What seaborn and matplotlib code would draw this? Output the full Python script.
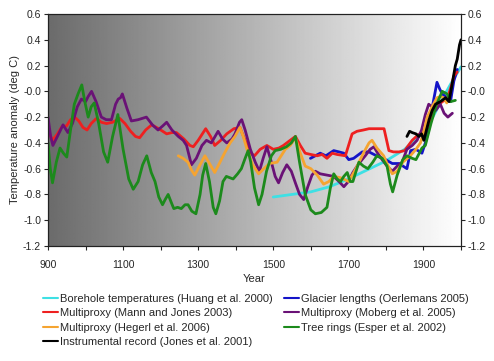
import numpy as np
import pandas as pd
import matplotlib
matplotlib.use("Agg")
import matplotlib.pyplot as plt
import seaborn as sns

# Temperature reconstructions, values
borehole_years = [1500, 1550, 1600, 1650, 1700, 1750, 1800, 1850, 1900, 1925, 1950, 1975, 2000]
borehole_vals = [-0.82, -0.80, -0.78, -0.74, -0.68, -0.61, -0.54, -0.45, -0.31, -0.20, -0.06, 0.07, 0.19]

glacier_years = [1599, 1612, 1625, 1640, 1661, 1675, 1688, 1701, 1714, 1737, 1755, 1775, 1799, 1817,
                 1835, 1856, 1866, 1880, 1896, 1905, 1914, 1925, 1936, 1943, 1950, 1962, 1972, 1981, 1990]
glacier_vals = [-0.52, -0.50, -0.48, -0.50, -0.46, -0.47, -0.48, -0.53, -0.52, -0.47, -0.47, -0.50, -0.53, -0.56,
                -0.56, -0.60, -0.46, -0.45, -0.48, -0.40, -0.30, -0.10, 0.07, 0.02, -0.02, -0.05, -0.08, 0.08, 0.17]

mann_years = [900, 912, 925, 938, 949, 960, 971, 982, 993, 1004, 1015, 1029, 1042, 1056, 1072, 1091, 1105,
              1120, 1133, 1144, 1160, 1176, 1195, 1216, 1230, 1242, 1262, 1278, 1287, 1300, 1320, 1333,
              1344, 1360, 1376, 1395, 1411, 1425, 1440, 1450, 1465, 1483, 1500, 1515, 1527, 1545, 1559,
              1572, 1585, 1600, 1617, 1630, 1643, 1657, 1670, 1692, 1710, 1723, 1740, 1755, 1780, 1795,
              1808, 1820, 1835, 1850, 1870, 1885, 1900, 1910, 1920, 1932, 1950, 1963, 1975, 1981, 1990]
mann_vals = [-0.30, -0.38, -0.33, -0.27, -0.27, -0.22, -0.20, -0.23, -0.28, -0.30, -0.25, -0.21, -0.24, -0.25,
             -0.24, -0.21, -0.25, -0.31, -0.35, -0.36, -0.30, -0.26, -0.29, -0.33, -0.32, -0.32, -0.37,
             -0.42, -0.43, -0.38, -0.29, -0.35, -0.42, -0.38, -0.33, -0.29, -0.28, -0.38, -0.48, -0.50,
             -0.45, -0.42, -0.45, -0.44, -0.42, -0.38, -0.35, -0.42, -0.48, -0.49, -0.50, -0.49, -0.52,
             -0.48, -0.49, -0.50, -0.33, -0.31, -0.30, -0.29, -0.29, -0.29, -0.46, -0.47, -0.47, -0.46,
             -0.38, -0.34, -0.31, -0.28, -0.22, -0.13, -0.08, -0.06, 0.05, 0.12, 0.15]

moberg_years = [900, 907, 913, 925, 940, 953, 965, 978, 989, 1000, 1007, 1016, 1028, 1042, 1055, 1069, 1080,
                1087, 1093, 1098, 1110, 1122, 1140, 1162, 1178, 1193, 1205, 1216, 1230, 1247, 1260, 1269,
                1282, 1295, 1310, 1322, 1335, 1353, 1365, 1376, 1390, 1398, 1410, 1416, 1425, 1439, 1452,
                1463, 1473, 1483, 1495, 1505, 1514, 1525, 1536, 1548, 1560, 1570, 1581, 1592, 1603, 1612,
                1625, 1643, 1661, 1675, 1688, 1700, 1712, 1728, 1745, 1758, 1768, 1778, 1790, 1803, 1817,
                1830, 1843, 1856, 1870, 1883, 1895, 1905, 1914, 1923, 1932, 1945, 1955, 1965, 1977]
moberg_vals = [-0.20, -0.35, -0.42, -0.35, -0.26, -0.32, -0.25, -0.12, -0.06, -0.08, -0.04, 0.00, -0.08,
               -0.20, -0.22, -0.22, -0.10, -0.06, -0.05, -0.02, -0.13, -0.23, -0.22, -0.20, -0.26, -0.30,
               -0.27, -0.24, -0.30, -0.35, -0.38, -0.42, -0.57, -0.52, -0.42, -0.38, -0.40, -0.31, -0.37,
               -0.40, -0.37, -0.33, -0.24, -0.22, -0.30, -0.45, -0.55, -0.62, -0.52, -0.43, -0.55, -0.66,
               -0.71, -0.63, -0.57, -0.62, -0.72, -0.80, -0.84, -0.74, -0.65, -0.62, -0.64, -0.65, -0.66,
               -0.70, -0.74, -0.70, -0.63, -0.56, -0.50, -0.45, -0.43, -0.48, -0.53, -0.58, -0.62, -0.58,
               -0.55, -0.45, -0.42, -0.38, -0.30, -0.18, -0.10, -0.12, -0.15, -0.10, -0.17, -0.20, -0.17]

hegerl_years = [1247, 1260, 1273, 1282, 1291, 1305, 1318, 1330, 1344, 1358, 1370, 1385, 1398, 1411, 1420,
                1430, 1445, 1461, 1475, 1490, 1510, 1532, 1545, 1559, 1572, 1585, 1600, 1617, 1634, 1648,
                1661, 1679, 1701, 1720, 1740, 1755, 1763, 1776, 1794, 1806, 1817, 1830, 1845, 1865, 1880,
                1892, 1902, 1910, 1923, 1936, 1945, 1954, 1962]
hegerl_vals = [-0.50, -0.52, -0.55, -0.61, -0.65, -0.57, -0.50, -0.56, -0.63, -0.55, -0.48, -0.40, -0.35,
               -0.28, -0.35, -0.45, -0.57, -0.64, -0.60, -0.56, -0.55, -0.45, -0.42, -0.36, -0.48, -0.58,
               -0.60, -0.65, -0.72, -0.70, -0.66, -0.67, -0.70, -0.60, -0.48, -0.40, -0.38, -0.44, -0.50,
               -0.58, -0.64, -0.62, -0.55, -0.50, -0.45, -0.40, -0.30, -0.20, -0.12, -0.05, -0.04, -0.05,
               -0.09]

esper_years = [900, 906, 912, 922, 932, 941, 950, 960, 970, 980, 990, 998, 1007, 1015, 1023, 1035, 1048,
               1059, 1072, 1086, 1100, 1115, 1127, 1140, 1152, 1163, 1175, 1185, 1195, 1205, 1212, 1220,
               1228, 1235, 1245, 1255, 1265, 1273, 1283, 1294, 1305, 1312, 1320, 1330, 1340, 1347, 1357,
               1366, 1375, 1393, 1405, 1415, 1425, 1433, 1440, 1450, 1461, 1470, 1482, 1495, 1505, 1520,
               1535, 1548, 1559, 1570, 1585, 1600, 1612, 1628, 1643, 1652, 1661, 1670, 1679, 1688, 1697,
               1705, 1712, 1728, 1740, 1752, 1765, 1776, 1790, 1803, 1812, 1818, 1830, 1845, 1856, 1870,
               1880, 1896, 1905, 1920, 1935, 1950, 1963, 1972, 1985]
esper_vals = [-0.40, -0.60, -0.71, -0.55, -0.44, -0.48, -0.51, -0.30, -0.10, -0.02, 0.05, -0.08, -0.20,
              -0.12, -0.09, -0.25, -0.47, -0.55, -0.35, -0.18, -0.45, -0.68, -0.76, -0.70, -0.57, -0.50,
              -0.63, -0.70, -0.82, -0.88, -0.84, -0.80, -0.86, -0.91, -0.90, -0.91, -0.88, -0.88, -0.93,
              -0.95, -0.80, -0.65, -0.56, -0.70, -0.90, -0.95, -0.85, -0.70, -0.66, -0.68, -0.64, -0.60,
              -0.52, -0.46, -0.55, -0.75, -0.88, -0.80, -0.62, -0.50, -0.46, -0.45, -0.43, -0.40, -0.35,
              -0.55, -0.80, -0.92, -0.95, -0.94, -0.90, -0.75, -0.64, -0.68, -0.70, -0.66, -0.63, -0.70,
              -0.70, -0.55, -0.58, -0.60, -0.55, -0.50, -0.52, -0.58, -0.72, -0.78, -0.65, -0.53, -0.50,
              -0.52, -0.53, -0.44, -0.42, -0.25, -0.10, 0.00, -0.02, -0.08, -0.07]

instr_years = [1856, 1863, 1870, 1880, 1888, 1895, 1901, 1908, 1915, 1923, 1932, 1945, 1959, 1968, 1976,
               1985, 1990, 1996, 2000]
instr_vals = [-0.35, -0.31, -0.32, -0.33, -0.35, -0.33, -0.38, -0.30, -0.22, -0.15, -0.10, -0.08, -0.05,
              -0.08, 0.05, 0.20, 0.25, 0.36, 0.40]

series = [
    ("Borehole temperatures (Huang et al. 2000)", borehole_years, borehole_vals, "#3ee0e4"),
    ("Multiproxy (Mann and Jones 2003)", mann_years, mann_vals, "#ee2020"),
    ("Multiproxy (Hegerl et al. 2006)", hegerl_years, hegerl_vals, "#f5a431"),
    ("Instrumental record (Jones et al. 2001)", instr_years, instr_vals, "#000000"),
    ("Glacier lengths (Oerlemans 2005)", glacier_years, glacier_vals, "#1414c8"),
    ("Multiproxy (Moberg et al. 2005)", moberg_years, moberg_vals, "#6a1276"),
    ("Tree rings (Esper et al. 2002)", esper_years, esper_vals, "#1c8a1c"),
]
draw_order = [0, 4, 1, 5, 2, 6, 3]

sns.set_style("ticks")
plt.rcParams["font.family"] = ["Liberation Sans", "DejaVu Sans"]
plt.rcParams["axes.unicode_minus"] = False

fig = plt.figure(figsize=(4.94, 3.61), dpi=100)
ax = fig.add_axes([0.0972, 0.3186, 0.836, 0.6426])

# grey-to-white gradient behind the curves
grad = np.linspace(0.42, 1.0, 256)
ax.imshow(np.tile(grad, (2, 1)), cmap="gray", vmin=0, vmax=1, aspect="auto",
          extent=[900, 2000, -1.2, 0.6], zorder=0, interpolation="bilinear")

for i in draw_order:
    label, xs, ys, color = series[i]
    df = pd.DataFrame({"year": xs, "anom": ys})
    sns.lineplot(data=df, x="year", y="anom", ax=ax, color=color, lw=2.0,
                 label=label, zorder=2 + draw_order.index(i))

ax.set_xlim(900, 2000)
ax.set_ylim(-1.2, 0.6)
ax.set_xticks(np.arange(900, 2001, 100))
ax.set_xticklabels([str(y) if (y - 900) % 200 == 0 and y < 2000 else "" for y in range(900, 2001, 100)])
yt = np.round(np.arange(-1.2, 0.61, 0.2), 1)
ax.set_yticks(yt)
ax.set_yticklabels([f"{v:.1f}" for v in yt])
ax.tick_params(labelsize=7.5, length=3, width=0.8, direction="out", pad=2)
ax.tick_params(axis="x", pad=7)
ax.set_xlabel("Year", fontsize=8, labelpad=3)
ax.set_ylabel("Temperature anomaly (deg C)", fontsize=8, labelpad=2)

ax2 = ax.twinx()
ax2.set_ylim(-1.2, 0.6)
ax2.set_yticks(yt)
ax2.set_yticklabels([f"{v:.1f}" for v in yt])
ax2.tick_params(labelsize=7.5, length=3, width=0.8, direction="out", pad=2)
for a in (ax, ax2):
    for s in a.spines.values():
        s.set_visible(True)
        s.set_color("#222222")
        s.set_linewidth(0.8)

h, l = ax.get_legend_handles_labels()
lookup = dict(zip(l, h))
ax.get_legend().remove()
order = [s[0] for s in series]
leg = fig.legend([lookup[k] for k in order], order, loc="upper left", bbox_to_anchor=(0.088, 0.186),
                 ncol=2, frameon=False, fontsize=8, handlelength=1.35, handletextpad=0.15,
                 columnspacing=1.0, labelspacing=0.4, borderpad=0, borderaxespad=0)
for line in leg.get_lines():
    line.set_linewidth(1.5)

fig.savefig("out.png", dpi=100)
